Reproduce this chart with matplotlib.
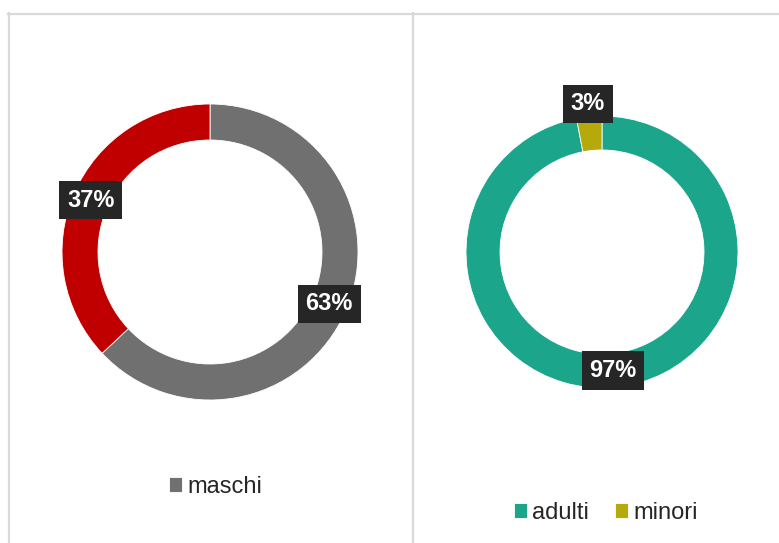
import numpy as np
import matplotlib
matplotlib.use("Agg")
import matplotlib.pyplot as plt
from matplotlib.lines import Line2D

plt.rcParams['font.family'] = ['Liberation Sans', 'DejaVu Sans']

# Data
gender_labels = ["maschi", "femmine"]
gender_values = [63, 37]
gender_colors = ["#707070", "#c00000"]

age_labels = ["adulti", "minori"]
age_values = [97, 3]
age_colors = ["#1ba68b", "#b5a90b"]

W, H = 779, 543
fig = plt.figure(figsize=(W / 100, H / 100), dpi=100)
ax = fig.add_axes([0, 0, 1, 1])

def donut(values, colors, center, radius, width, label_radii):
    wedges, _ = ax.pie(values, colors=colors, startangle=90, counterclock=False,
                       center=center, radius=radius,
                       wedgeprops=dict(width=width, edgecolor='white', linewidth=0.6))
    total = sum(values)
    for w, v, lr in zip(wedges, values, label_radii):
        ang = np.deg2rad((w.theta1 + w.theta2) / 2)
        r = radius - width / 2 if lr is None else lr
        x = center[0] + r * np.cos(ang)
        y = center[1] + r * np.sin(ang)
        ax.text(x, y, f"{round(100 * v / total)}%", ha='center', va='center',
                color='white', fontsize=17, fontweight='bold',
                bbox=dict(boxstyle='square,pad=0.32', fc='#262626', ec='none'))
    return wedges

w1 = donut(gender_values, gender_colors, (210, H - 252), 148, 36, [None, None])
w2 = donut(age_values, age_colors, (602, H - 252), 136, 34, [None, 149])

ax.set_xlim(0, W)
ax.set_ylim(0, H)
ax.set_aspect('equal')
ax.axis('off')

leg1 = ax.legend([w1[0]], [gender_labels[0]], loc='center',
                 bbox_to_anchor=(215.5 / W, (H - 487) / H), bbox_transform=fig.transFigure,
                 frameon=False, fontsize=17, handlelength=0.56, handleheight=0.56,
                 handletextpad=0.22, labelcolor='#262626')
ax.add_artist(leg1)
ax.legend(w2, age_labels, loc='center', ncol=2,
          bbox_to_anchor=(606 / W, (H - 513) / H), bbox_transform=fig.transFigure,
          frameon=False, fontsize=17, handlelength=0.56, handleheight=0.56,
          handletextpad=0.22, columnspacing=1.1, labelcolor='#262626')

# panel borders
bc = '#d9d9d9'
fig.add_artist(Line2D([8 / W, 1], [1 - 13.5 / H] * 2, color=bc, lw=1.6, transform=fig.transFigure))
fig.add_artist(Line2D([8.5 / W] * 2, [0, 1 - 13 / H], color=bc, lw=1.6, transform=fig.transFigure))
fig.add_artist(Line2D([413 / W] * 2, [0, 1 - 13 / H], color=bc, lw=1.6, transform=fig.transFigure))

fig.savefig("out.png", dpi=100, facecolor='white')
